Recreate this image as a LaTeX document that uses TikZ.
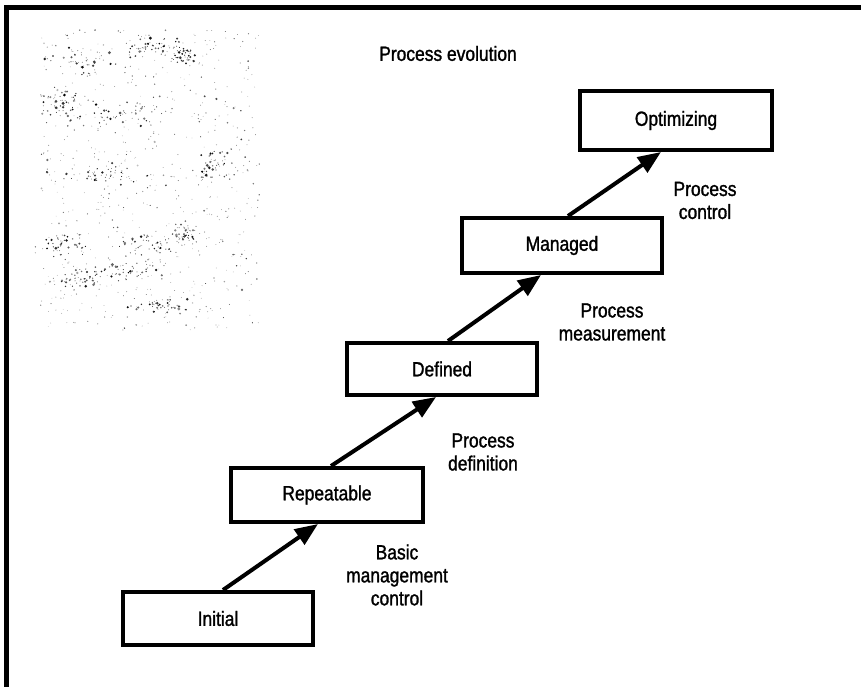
\documentclass[tikz,border=0pt]{standalone}
\usepackage{fontspec}
\setmainfont{Liberation Sans}[FakeStretch=0.85, FakeBold=1.3]
\usetikzlibrary{arrows.meta}

\tikzset{
  stage/.style={draw=black, line width=4pt, fill=white, inner sep=0pt,
                minimum width=192pt, minimum height=54pt},
  caption/.style={align=center, inner sep=0pt},
  stepup/.style={line width=4pt, -{Triangle[length=23pt,width=18pt]}},
  rim/.style={line width=4.5pt, line cap=butt}
}

\begin{document}
\begin{tikzpicture}[x=1pt, y=-1pt, font=\fontsize{20.5}{23}\selectfont]
  \useasboundingbox (0,0) rectangle (861,687);
  \fill[white] (0,0) rectangle (861,687);

  % frame edges (top and left only)
  \coordinate (fA) at (4,7.5);
  \coordinate (fB) at (861,7.5);
  \coordinate (fC) at (6.5,5);
  \coordinate (fD) at (6.5,687);
  \draw[rim] (fA) -- (fB);
  \draw[rim] (fC) -- (fD);

  % speckle in the upper left corner: a light scatter ...
  \pgfmathsetseed{4711}
  \foreach \i in {1,...,650} {
    \pgfmathsetmacro\px{40+220*rnd}
    \pgfmathsetmacro\py{30+300*rnd}
    \pgfmathsetmacro\pr{0.35+1.1*rnd*rnd*rnd}
    \pgfmathsetmacro\pg{25+60*rnd}
    \fill[black!\pg] (\px,\py) circle[radius=\pr pt];
  }
  % ... and denser, darker patches
  \foreach \cx/\cy/\sx/\sy in {85/58/55/18, 150/45/30/10, 60/108/25/20,
      120/115/60/15, 215/165/25/18, 95/175/55/12, 60/245/30/15,
      150/245/40/15, 185/235/20/12, 130/270/45/12, 160/305/45/10,
      80/280/25/12, 185/55/15/12} {
    \foreach \j in {1,...,45} {
      \pgfmathsetmacro\px{\cx+\sx*(rnd+rnd-1)}
      \pgfmathsetmacro\py{\cy+\sy*(rnd+rnd-1)}
      \pgfmathsetmacro\pr{0.4+1.3*rnd*rnd}
      \pgfmathsetmacro\pg{45+55*rnd}
      \fill[black!\pg] (\px,\py) circle[radius=\pr pt];
    }
  }

  % title
  \node[caption] (title) at (448,53.5) {Process evolution};

  % maturity levels
  \node[stage, minimum width=190pt, minimum height=53pt] (initial)    at (218,618.5) {Initial};
  \node[stage] (repeatable) at (327,495)   {Repeatable};
  \node[stage, minimum width=190pt, minimum height=52pt] (defined)    at (442,369)   {Defined};
  \node[stage, minimum width=200pt, minimum height=55pt] (managed)    at (562,245.5) {Managed};
  \node[stage, minimum height=59pt] (optimizing) at (676,120.5) {Optimizing};

  % transitions
  \draw[stepup] ([xshift=102pt]initial.north west)    -- ([xshift=89pt]repeatable.south west);
  \draw[stepup] ([xshift=102pt]repeatable.north west) -- ([xshift=91pt]defined.south west);
  \draw[stepup] ([xshift=103pt]defined.north west)    -- ([xshift=81pt]managed.south west);
  \draw[stepup] ([xshift=108pt]managed.north west)    -- ([xshift=83pt]optimizing.south west);

  % transition labels
  \node[caption] (lbasic)   at (397,575)   {Basic\\management\\control};
  \node[caption] (ldef)     at (483,452)   {Process\\definition};
  \node[caption] (lmeas)    at (612,322)   {Process\\measurement};
  \node[caption] (lcontrol) at (705,200.5) {Process\\control};
\end{tikzpicture}
\end{document}
